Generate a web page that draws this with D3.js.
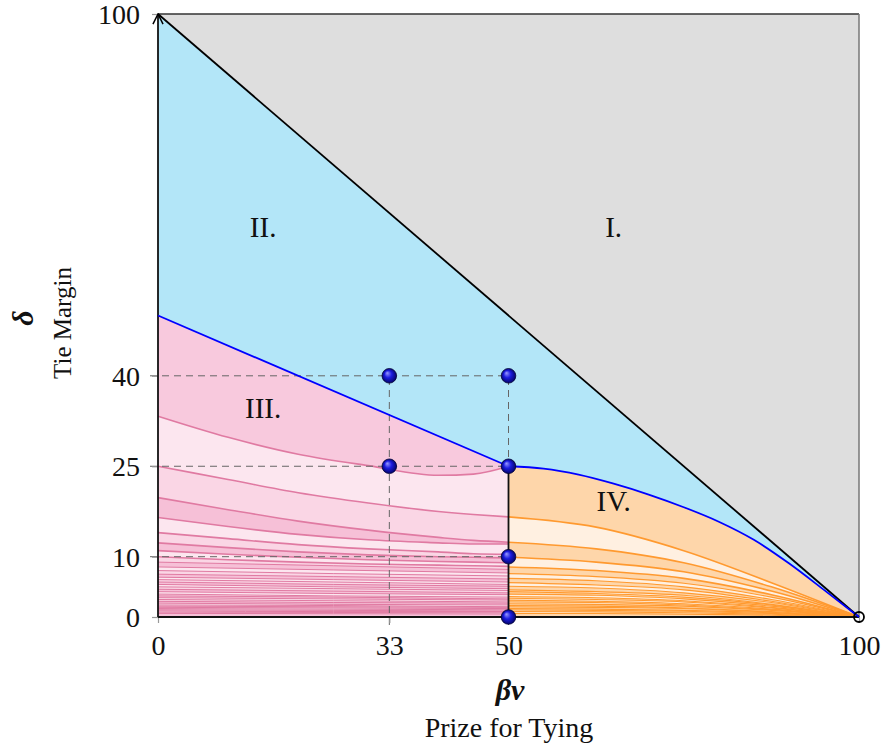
<!DOCTYPE html>
<html>
<head>
<meta charset="utf-8">
<script src="https://cdn.jsdelivr.net/npm/d3@7"></script>
<style>
body { margin: 0; background: #fff; }
text { font-family: "Liberation Serif", "DejaVu Serif", serif; fill: #111; }
</style>
</head>
<body>
<script>
// tick values
const xTicks = [0, 33, 50, 100];
const yTicks = [0, 10, 25, 40, 100];

// frontier (blue) curve
const blueLeftX = [0, 50];
const blueLeft = [50, 25];
const blueRightX = [50, 55, 60, 65, 70, 75, 80, 85, 90, 95, 100];
const blueRight = [25, 24.6, 23.6, 22.1, 20.3, 18.2, 15.8, 12.8, 8.9, 4.5, 0];

// pink curves (region III)
const pinkX = [0, 10, 20, 30, 40, 45, 50];
const pinkUpper = [
    [33.3, 29.8, 27.0, 25.1, 23.5, 23.7, 25.0],
    [25.0, 22.8, 20.6, 18.9, 17.5, 17.0, 16.6],
    [19.8, 17.8, 15.9, 14.4, 13.2, 12.7, 12.4],
    [16.5, 15.0, 13.7, 12.8, 12.3, 12.1, 12.1],
    [14.0, 13.0, 12.0, 11.3, 10.8, 10.5, 10.4],
    [12.3, 11.5, 10.8, 10.3, 10.0, 9.9, 9.8],
    [11.0, 10.4, 9.9, 9.5, 9.2, 9.1, 9.0],
    [10.0, 9.5, 9.1, 8.8, 8.6, 8.5, 8.4]
];
const pinkLowX = [0, 25, 50];
const pinkLow = [
    [9.1, 8.5, 7.9], [8.3, 7.8, 7.3], [7.7, 7.2, 6.8], [7.1, 6.7, 6.3],
    [6.6, 6.2, 5.8], [6.2, 5.8, 5.4], [5.8, 5.4, 5.1], [5.4, 5.0, 4.7],
    [5.0, 4.7, 4.4], [4.6, 4.3, 4.0], [4.2, 3.9, 3.7], [3.8, 3.5, 3.3],
    [3.5, 3.3, 3.0], [3.2, 3.0, 2.8], [2.9, 2.7, 2.5], [2.6, 2.4, 2.3],
    [2.3, 2.1, 2.0], [2.0, 1.9, 1.7], [1.8, 1.7, 1.6], [1.6, 1.5, 1.4],
    [1.4, 1.3, 1.2], [1.2, 1.1, 1.0], [1.0, 0.9, 0.9], [0.8, 0.75, 0.7],
    [0.6, 0.55, 0.5]
];

// orange curves (region IV)
const orangeX = [50, 62.5, 75, 87.5, 100];
const orangeCurves = [
    [16.6, 14.9, 11.0, 5.7, 0], [12.4, 11.3, 9.0, 5.0, 0],
    [9.9, 9.1, 7.5, 4.3, 0], [8.3, 7.7, 6.4, 3.7, 0],
    [7.2, 6.7, 5.6, 3.3, 0], [6.4, 6.0, 5.0, 2.9, 0],
    [5.7, 5.3, 4.5, 2.6, 0], [5.1, 4.8, 4.0, 2.4, 0],
    [4.5, 4.2, 3.6, 2.1, 0], [4.2, 3.9, 3.3, 2.0, 0],
    [3.8, 3.6, 3.0, 1.8, 0], [3.4, 3.2, 2.7, 1.6, 0],
    [3.1, 2.9, 2.5, 1.5, 0], [2.8, 2.6, 2.2, 1.3, 0],
    [2.5, 2.4, 2.0, 1.2, 0], [2.2, 2.1, 1.8, 1.1, 0],
    [1.9, 1.8, 1.5, 0.9, 0], [1.7, 1.6, 1.4, 0.8, 0],
    [1.4, 1.3, 1.1, 0.7, 0], [1.2, 1.1, 0.95, 0.6, 0],
    [0.9, 0.85, 0.7, 0.45, 0], [0.6, 0.57, 0.48, 0.3, 0]
];

// marked points and guides
const dotsX = [33, 50, 33, 50, 50, 50];
const dotsY = [40, 40, 25, 25, 10, 0];
const openDot = [100, 0];
const guideY = [40, 25, 10];
const guideX = [33, 50];

const regionLabels = ["I.", "II.", "III.", "IV."];
const regionX = [65, 15, 15, 65];
const regionY = [63, 63, 33, 17.5];

const width = 883;
const height = 749;

let svg = d3.select("body")
    .append("svg")
    .attr("width", width)
    .attr("height", height);

let x = d3.scaleLinear().domain([0, 100]).range([158, 859]);
let y = d3.scaleLinear().domain([0, 100]).range([617, 14]);

const zip = (xs, ys) => xs.map((v, i) => [v, ys[i]]);

let area = d3.area()
    .x(d => x(d[0]))
    .y0(y(0))
    .y1(d => y(d[1]))
    .curve(d3.curveMonotoneX);

let line = d3.line()
    .x(d => x(d[0]))
    .y(d => y(d[1]))
    .curve(d3.curveMonotoneX);

let straight = d3.line()
    .x(d => x(d[0]))
    .y(d => y(d[1]));

let defs = svg.append("defs");
let grad = defs.append("radialGradient")
    .attr("id", "ball")
    .attr("cx", "50%").attr("cy", "50%").attr("r", "55%")
    .attr("fx", "35%").attr("fy", "30%");
grad.append("stop").attr("offset", "0%").attr("stop-color", "#9a9aff");
grad.append("stop").attr("offset", "45%").attr("stop-color", "#1c1ce0");
grad.append("stop").attr("offset", "100%").attr("stop-color", "#00005a");

defs.append("marker")
    .attr("id", "arrow")
    .attr("viewBox", "0 0 10 10")
    .attr("refX", 9).attr("refY", 5)
    .attr("markerWidth", 7).attr("markerHeight", 7)
    .attr("orient", "auto")
    .append("path")
    .attr("d", "M1,1 L9,5 L1,9")
    .attr("fill", "none")
    .attr("stroke", "#000")
    .attr("stroke-width", 1.2);

// background regions
svg.append("path")
    .attr("d", straight([[0, 100], [100, 100], [100, 0]]))
    .attr("fill", "#dedede");
svg.append("path")
    .attr("d", straight([[0, 100], [100, 0], [0, 0]]))
    .attr("fill", "#b3e6f8");

svg.append("path")
    .attr("d", straight([[0, 0]].concat(zip(blueLeftX, blueLeft), [[50, 0]])))
    .attr("fill", "#f8c9dd");
svg.append("path")
    .attr("d", area(zip(blueRightX, blueRight)))
    .attr("fill", "#fed6aa");

// pink bands
let pinkAll = pinkUpper.map(c => zip(pinkX, c))
    .concat(pinkLow.map(c => zip(pinkLowX, c)));
let pinkFills = ["#fce6ef", "#fad6e5", "#f6c0d7"];

svg.append("g")
    .selectAll("path")
    .data(pinkAll)
    .join("path")
    .attr("d", d => area(d))
    .attr("fill", (d, i) => pinkFills[i % 3]);

svg.append("g")
    .selectAll("path")
    .data(pinkAll)
    .join("path")
    .attr("d", d => line(d))
    .attr("fill", "none")
    .attr("stroke", "#e07aa2")
    .attr("stroke-width", (d, i) => i < 8 ? 1.6 : 1.0);

// orange bands
let orangeAll = orangeCurves.map(c => zip(orangeX, c));
let orangeFills = ["#fff0e1", "#fed6aa"];

svg.append("g")
    .selectAll("path")
    .data(orangeAll)
    .join("path")
    .attr("d", d => area(d))
    .attr("fill", (d, i) => orangeFills[i % 2]);

svg.append("g")
    .selectAll("path")
    .data(orangeAll)
    .join("path")
    .attr("d", d => line(d))
    .attr("fill", "none")
    .attr("stroke", "#ff9a30")
    .attr("stroke-width", (d, i) => i < 4 ? 1.6 : 1.1);

// dashed guides
let guides = svg.append("g")
    .attr("stroke", "#666")
    .attr("stroke-width", 1)
    .attr("stroke-dasharray", "7,5");

guides.selectAll(".h")
    .data(guideY)
    .join("line")
    .attr("x1", x(0) - 8)
    .attr("x2", x(50))
    .attr("y1", d => y(d))
    .attr("y2", d => y(d));

guides.selectAll(".v")
    .data(guideX)
    .join("line")
    .attr("x1", d => x(d))
    .attr("x2", d => x(d))
    .attr("y1", y(0) + 8)
    .attr("y2", y(40));

// frame
svg.append("line")
    .attr("x1", x(0)).attr("x2", x(100))
    .attr("y1", y(100)).attr("y2", y(100))
    .attr("stroke", "#333").attr("stroke-width", 1.5);
svg.append("line")
    .attr("x1", x(100)).attr("x2", x(100))
    .attr("y1", y(100)).attr("y2", y(0))
    .attr("stroke", "#777").attr("stroke-width", 1.5);

// axes
let xAxis = d3.axisBottom(x)
    .tickValues(xTicks)
    .tickSize(6)
    .tickPadding(12)
    .tickFormat(d3.format("d"));
let yAxis = d3.axisLeft(y)
    .tickValues(yTicks)
    .tickSize(6)
    .tickPadding(12)
    .tickFormat(d3.format("d"));

let gx = svg.append("g")
    .attr("transform", `translate(0, ${y(0)})`)
    .call(xAxis);
let gy = svg.append("g")
    .attr("transform", `translate(${x(0)}, 0)`)
    .call(yAxis);

[gx, gy].forEach(g => {
    g.select(".domain").remove();
    g.selectAll(".tick line").attr("stroke", "#999").attr("stroke-width", 1.2);
    g.selectAll(".tick text")
        .attr("font-family", "Liberation Serif, DejaVu Serif, serif")
        .attr("font-size", 28)
        .attr("fill", "#111");
});
gy.selectAll(".tick text").attr("dy", "0.34em");

svg.append("line")
    .attr("x1", x(0)).attr("x2", x(100))
    .attr("y1", y(0)).attr("y2", y(0))
    .attr("stroke", "#111").attr("stroke-width", 1.8);
svg.append("line")
    .attr("x1", x(0)).attr("x2", x(0))
    .attr("y1", y(0)).attr("y2", y(100))
    .attr("stroke", "#111").attr("stroke-width", 1.8)
    .attr("marker-end", "url(#arrow)");

// diagonal
svg.append("path")
    .attr("d", straight([[0, 100], [100, 0]]))
    .attr("fill", "none")
    .attr("stroke", "#000")
    .attr("stroke-width", 1.8);

// vertical boundary at 50
svg.append("path")
    .attr("d", straight([[50, 0], [50, 25]]))
    .attr("fill", "none")
    .attr("stroke", "#111")
    .attr("stroke-width", 1.8);

// blue frontier
svg.append("path")
    .attr("d", straight(zip(blueLeftX, blueLeft)))
    .attr("fill", "none")
    .attr("stroke", "#0000ff")
    .attr("stroke-width", 1.8);
svg.append("path")
    .attr("d", line(zip(blueRightX, blueRight)))
    .attr("fill", "none")
    .attr("stroke", "#0000ff")
    .attr("stroke-width", 1.8);

// region labels
svg.append("g")
    .selectAll("text")
    .data(regionLabels)
    .join("text")
    .attr("x", (d, i) => x(regionX[i]))
    .attr("y", (d, i) => y(regionY[i]))
    .attr("text-anchor", "middle")
    .attr("font-size", 29)
    .text(d => d);

// dots
svg.append("g")
    .selectAll("circle")
    .data(dotsX)
    .join("circle")
    .attr("cx", d => x(d))
    .attr("cy", (d, i) => y(dotsY[i]))
    .attr("r", 7.3)
    .attr("fill", "url(#ball)")
    .attr("stroke", "#000033")
    .attr("stroke-width", 0.8);

svg.append("circle")
    .attr("cx", x(openDot[0]))
    .attr("cy", y(openDot[1]))
    .attr("r", 5)
    .attr("fill", "none")
    .attr("stroke", "#000")
    .attr("stroke-width", 1.8);

// axis titles
svg.append("text")
    .attr("x", 510)
    .attr("y", 700)
    .attr("text-anchor", "middle")
    .attr("font-size", 30)
    .attr("font-weight", "bold")
    .attr("font-style", "italic")
    .text("βv");
svg.append("text")
    .attr("x", 509)
    .attr("y", 737)
    .attr("text-anchor", "middle")
    .attr("font-size", 28)
    .text("Prize for Tying");

svg.append("text")
    .attr("transform", "translate(33, 318) rotate(-90)")
    .attr("text-anchor", "middle")
    .attr("font-size", 30)
    .attr("font-weight", "bold")
    .attr("font-style", "italic")
    .text("δ");
svg.append("text")
    .attr("transform", "translate(71, 323) rotate(-90)")
    .attr("text-anchor", "middle")
    .attr("font-size", 25)
    .text("Tie Margin");
</script>
</body>
</html>
